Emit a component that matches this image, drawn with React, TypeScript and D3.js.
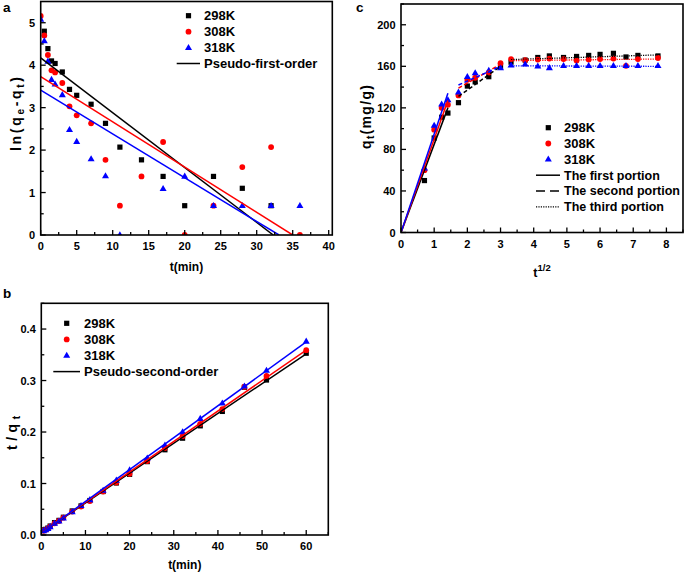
import React from 'react';
import * as d3 from 'd3';

const FONT = "'Liberation Sans', Arial, Helvetica, sans-serif";
const COLORS = ['#000000', '#ff0000', '#0000ff'];
const KINDS = ['square', 'circle', 'triangle'];
const SERIES = ['298K', '308K', '318K'];

// ---------- Panel a: pseudo-first-order ----------
const tA = [0, 0.5, 1, 1.5, 2, 3, 4, 5, 7, 9, 11, 14, 17, 20, 24, 28, 32, 36];
const a298: (number | null)[] = [null, 4.8, 4.39, 4.1, 4.04, 3.84, 3.43, 3.29, 3.08, 2.63, 2.07, 1.77, 1.38, 0.69, 1.38, 1.1, 0.69, null];
const a308: (number | null)[] = [5.16, 4.7, 4.24, 3.88, 3.83, 3.58, 3.03, 2.82, 2.63, 1.77, 0.69, 1.38, 2.19, 0, 0.69, 1.6, 2.07, 0];
const a318: (number | null)[] = [5.08, 4.57, 4.09, 3.66, 3.55, 3.3, 2.48, 2.2, 1.79, 1.39, 0, null, 1.09, 1.38, 0.69, 0.69, 0.69, 0.69];
// fitted lines: [t0, v0, t1, v1]
const aFit = [
  [0, 4.17, 32.3, 0],
  [0, 3.73, 35.0, 0],
  [0, 3.41, 33.1, 0],
];
const aXTicks = [0, 5, 10, 15, 20, 25, 30, 35, 40];
const aYTicks = [0, 1, 2, 3, 4, 5];

// ---------- Panel b: pseudo-second-order ----------
const tB = [0.5, 1, 1.5, 2, 3, 4, 5, 7, 9, 11, 14, 17, 20, 24, 28, 32, 36, 41, 46, 51, 60];
const b298 = [0.01, 0.011, 0.0135, 0.0174, 0.024, 0.0284, 0.0345, 0.0467, 0.0565, 0.067, 0.0845, 0.101, 0.1178, 0.1425, 0.1655, 0.188, 0.212, 0.24, 0.287, 0.301, 0.353];
const b308 = [0.0083, 0.0101, 0.0125, 0.0163, 0.0227, 0.0272, 0.0336, 0.0455, 0.0552, 0.0659, 0.0843, 0.102, 0.119, 0.1437, 0.169, 0.192, 0.2156, 0.2445, 0.288, 0.309, 0.359];
const b318 = [0.008, 0.0097, 0.0121, 0.0157, 0.0222, 0.0266, 0.0326, 0.0449, 0.0568, 0.0682, 0.0863, 0.106, 0.126, 0.149, 0.174, 0.2, 0.226, 0.256, 0.289, 0.3196, 0.376];
const bFit = [
  [0.3, 0.006, 60, 0.352],
  [0.3, 0.006, 60, 0.359],
  [0.3, 0.005, 60, 0.375],
];
const bXTicks = [0, 10, 20, 30, 40, 50, 60];
const bYTicks = [0, 0.1, 0.2, 0.3, 0.4];

// ---------- Panel c: intraparticle diffusion ----------
const sC = [0.707, 1, 1.225, 1.414, 1.732, 2, 2.236, 2.646, 3, 3.317, 3.742, 4.123, 4.472, 4.899, 5.292, 5.657, 6, 6.403, 6.782, 7.141, 7.746];
const c298 = [50, 91, 111, 115, 125, 141, 145, 150, 160, 164, 166, 168.5, 170, 168.5, 169.5, 170.5, 171.5, 172.5, 169, 170.5, 170];
const c308 = [60, 99, 120, 123, 132, 147, 149, 154, 163, 167, 166, 166.5, 167.5, 167, 165.5, 166.5, 167, 167.5, 160.5, 167, 168];
const c318 = [62, 103, 123.5, 127.5, 135, 150, 153.5, 156, 158.5, 161, 162, 160, 158.5, 160.5, 160.5, 160.5, 160.5, 160.5, 160.5, 160.5, 160.5];
const cFirst = [
  [0, 0, 1.414, 120],
  [0, 0, 1.414, 127],
  [0, 0, 1.414, 134],
];
const cSecond = [
  [1.732, 131, 3.0, 160],
  [1.732, 139, 3.0, 162],
  [1.732, 142, 3.0, 160],
];
const cThird = [
  [3.317, 166.5, 7.746, 171],
  [3.317, 165.5, 7.746, 167],
  [3.317, 160.5, 7.746, 160],
];
const cXTicks = [0, 1, 2, 3, 4, 5, 6, 7, 8];
const cYTicks = [0, 40, 80, 120, 160, 200];

type Sc = d3.ScaleLinear<number, number>;

function Marker({ kind, x, y, color }: { kind: string; x: number; y: number; color: string }) {
  if (kind === 'square') return <rect x={x - 2.6} y={y - 2.6} width={5.2} height={5.2} fill={color} />;
  if (kind === 'circle') return <circle cx={x} cy={y} r={2.9} fill={color} />;
  return <path d={`M${x},${y - 3.8}L${x + 3.5},${y + 2.3}L${x - 3.5},${y + 2.3}Z`} fill={color} />;
}

function minorsOf(major: number[]) {
  const out: number[] = [];
  for (let i = 0; i < major.length - 1; i++) out.push((major[i] + major[i + 1]) / 2);
  return out;
}

function Axes({ x, y, xTicks, yTicks, yFmt, xExtraMinor, yExtraMinor, xLabDy }: {
  x: Sc; y: Sc; xTicks: number[]; yTicks: number[]; yFmt: (v: number) => string;
  xExtraMinor?: number[]; yExtraMinor?: number[]; xLabDy: number;
}) {
  const [x0, x1] = x.range();
  const [yb, yt] = y.range();
  const xMin = minorsOf(xTicks).concat(xExtraMinor || []);
  const yMin = minorsOf(yTicks).concat(yExtraMinor || []);
  return (
    <g>
      {xTicks.map((v) => (
        <line key={'xM' + v} x1={x(v)} x2={x(v)} y1={yb} y2={yb - 5} stroke="#000" strokeWidth={1.3} />
      ))}
      {xMin.map((v) => (
        <line key={'xm' + v} x1={x(v)} x2={x(v)} y1={yb} y2={yb - 3} stroke="#000" strokeWidth={1.3} />
      ))}
      {yTicks.map((v) => (
        <line key={'yM' + v} x1={x0} x2={x0 + 5} y1={y(v)} y2={y(v)} stroke="#000" strokeWidth={1.3} />
      ))}
      {yMin.map((v) => (
        <line key={'ym' + v} x1={x0} x2={x0 + 3} y1={y(v)} y2={y(v)} stroke="#000" strokeWidth={1.3} />
      ))}
      <rect x={x0} y={yt} width={x1 - x0} height={yb - yt} fill="none" stroke="#000" strokeWidth={1.6} />
      {xTicks.map((v) => (
        <text key={'xl' + v} x={x(v)} y={yb + xLabDy} textAnchor="middle" fontSize={11} fontWeight="bold">
          {String(v)}
        </text>
      ))}
      {yTicks.map((v) => (
        <text key={'yl' + v} x={x0 - 5.5} y={y(v) + 4} textAnchor="end" fontSize={11} fontWeight="bold">
          {yFmt(v)}
        </text>
      ))}
    </g>
  );
}

function Scatter({ xs, ys, x, y, kind, color, clip }: {
  xs: number[]; ys: (number | null)[]; x: Sc; y: Sc; kind: string; color: string; clip: string;
}) {
  return (
    <g clipPath={`url(#${clip})`}>
      {xs.map((xv, i) => {
        const yv = ys[i];
        if (yv === null || yv === undefined) return null;
        return <Marker key={i} kind={kind} x={x(xv)} y={y(yv)} color={color} />;
      })}
    </g>
  );
}

function Seg({ s, x, y, color, dash, width, clip }: {
  s: number[]; x: Sc; y: Sc; color: string; dash?: string; width?: number; clip: string;
}) {
  return (
    <line clipPath={`url(#${clip})`} x1={x(s[0])} y1={y(s[1])} x2={x(s[2])} y2={y(s[3])}
      stroke={color} strokeWidth={width || 1.5} strokeDasharray={dash} />
  );
}

function LegendRow({ x, y, kind, color, label, tx }: { x: number; y: number; kind: string; color: string; label: string; tx: number }) {
  return (
    <g>
      <Marker kind={kind} x={x} y={y} color={color} />
      <text x={tx} y={y + 4.6} fontSize={13} fontWeight="bold">{label}</text>
    </g>
  );
}

export default function App() {
  // scales
  const axA = d3.scaleLinear().domain([0, 40.5]).range([40.7, 332.3]);
  const ayA = d3.scaleLinear().domain([0, 5.5]).range([235, 1.5]);
  const axB = d3.scaleLinear().domain([0, 65]).range([41.3, 328.3]);
  const ayB = d3.scaleLinear().domain([0, 0.45]).range([535, 303.3]);
  const axC = d3.scaleLinear().domain([0, 8.5]).range([401, 683]);
  const ayC = d3.scaleLinear().domain([0, 220]).range([232.5, 4]);

  const aData = [a298, a308, a318];
  const bData = [b298, b308, b318];
  const cData = [c298, c308, c318];

  const clipRect = (id: string, x: Sc, y: Sc) => {
    const [x0, x1] = x.range();
    const [yb, yt] = y.range();
    return (
      <clipPath id={id}>
        <rect x={x0} y={yt} width={x1 - x0} height={yb - yt} />
      </clipPath>
    );
  };

  return (
    <svg width={685} height={575} viewBox="0 0 685 575"
      style={{ position: 'absolute', left: 0, top: 0, background: '#fff' }}
      fontFamily={FONT}>
      <defs>
        {clipRect('clipA', axA, ayA)}
        {clipRect('clipB', axB, ayB)}
        {clipRect('clipC', axC, ayC)}
      </defs>
      <rect x={0} y={0} width={685} height={575} fill="#fff" />

      {/* ---------------- Panel a ---------------- */}
      <text x={3} y={12} fontSize={13.5} fontWeight="bold">a</text>
      {aData.map((d, i) => (
        <Scatter key={'as' + i} xs={tA} ys={d} x={axA} y={ayA} kind={KINDS[i]} color={COLORS[i]} clip="clipA" />
      ))}
      {aFit.map((s, i) => (
        <Seg key={'af' + i} s={s} x={axA} y={ayA} color={COLORS[i]} clip="clipA" />
      ))}
      <Axes x={axA} y={ayA} xTicks={aXTicks} yTicks={aYTicks} yFmt={(v) => String(v)} xLabDy={15} />
      <text x={186.5} y={271} textAnchor="middle" fontSize={12} fontWeight="bold">t(min)</text>
      <text transform="translate(20.5,114) rotate(-90)" textAnchor="middle" fontSize={14} fontWeight="bold"
        textLength={74} lengthAdjust="spacing">
        ln(q<tspan fontSize={10} dy={3}>e</tspan><tspan dy={-3}>-q</tspan><tspan fontSize={10} dy={3}>t</tspan><tspan dy={-3}>)</tspan>
      </text>
      {SERIES.map((s, i) => (
        <LegendRow key={'al' + i} x={188.5} y={15.7 + i * 16} kind={KINDS[i]} color={COLORS[i]} label={s} tx={204} />
      ))}
      <line x1={176.7} x2={200} y1={63.5} y2={63.5} stroke="#000" strokeWidth={1.5} />
      <text x={204} y={68} fontSize={13} fontWeight="bold">Pseudo-first-order</text>

      {/* ---------------- Panel b ---------------- */}
      <text x={3} y={298} fontSize={13.5} fontWeight="bold">b</text>
      {bData.map((d, i) => (
        <Scatter key={'bs' + i} xs={tB} ys={d} x={axB} y={ayB} kind={KINDS[i]} color={COLORS[i]} clip="clipB" />
      ))}
      {bFit.map((s, i) => (
        <Seg key={'bf' + i} s={s} x={axB} y={ayB} color={COLORS[i]} clip="clipB" />
      ))}
      <Axes x={axB} y={ayB} xTicks={bXTicks} yTicks={bYTicks} yFmt={(v) => d3.format('.1f')(v)}
        yExtraMinor={[0.45]} xExtraMinor={[65]} xLabDy={14.5} />
      <text x={184.8} y={569} textAnchor="middle" fontSize={12} fontWeight="bold">t(min)</text>
      <text transform="translate(16.5,433) rotate(-90)" textAnchor="middle" fontSize={14} fontWeight="bold"
        textLength={34} lengthAdjust="spacing">
        t/q<tspan fontSize={10} dy={3}>t</tspan>
      </text>
      {SERIES.map((s, i) => (
        <LegendRow key={'bl' + i} x={66.7} y={323.3 + i * 16.1} kind={KINDS[i]} color={COLORS[i]} label={s} tx={84} />
      ))}
      <line x1={53.3} x2={80} y1={371.6} y2={371.6} stroke="#000" strokeWidth={1.5} />
      <text x={84} y={376.2} fontSize={13} fontWeight="bold">Pseudo-second-order</text>

      {/* ---------------- Panel c ---------------- */}
      <text x={356} y={12} fontSize={13.5} fontWeight="bold">c</text>
      {cData.map((d, i) => (
        <Scatter key={'cs' + i} xs={sC} ys={d} x={axC} y={ayC} kind={KINDS[i]} color={COLORS[i]} clip="clipC" />
      ))}
      {cFirst.map((s, i) => (
        <Seg key={'c1' + i} s={s} x={axC} y={ayC} color={COLORS[i]} clip="clipC" />
      ))}
      {cSecond.map((s, i) => (
        <Seg key={'c2' + i} s={s} x={axC} y={ayC} color={COLORS[i]} dash="4,2.5" clip="clipC" />
      ))}
      {cThird.map((s, i) => (
        <Seg key={'c3' + i} s={s} x={axC} y={ayC} color={COLORS[i]} dash="1.2,1.2" width={1.3} clip="clipC" />
      ))}
      <Axes x={axC} y={ayC} xTicks={cXTicks} yTicks={cYTicks} yFmt={(v) => String(v)}
        xExtraMinor={[8.5]} yExtraMinor={[220]} xLabDy={15.5} />
      <text x={542} y={277} textAnchor="middle" fontSize={12.5} fontWeight="bold">
        t<tspan fontSize={9.5} dy={-6}>1/2</tspan>
      </text>
      <text transform="translate(370.5,117) rotate(-90)" textAnchor="middle" fontSize={14} fontWeight="bold"
        textLength={64} lengthAdjust="spacing">
        q<tspan fontSize={10} dy={3}>t</tspan><tspan dy={-3}>(mg/g)</tspan>
      </text>
      {SERIES.map((s, i) => (
        <LegendRow key={'cl' + i} x={548.3} y={127.7 + i * 15.8} kind={KINDS[i]} color={COLORS[i]} label={s} tx={564} />
      ))}
      <line x1={536} x2={560} y1={175.2} y2={175.2} stroke="#000" strokeWidth={1.5} />
      <text x={564} y={179.6} fontSize={12.5} fontWeight="bold">The first portion</text>
      <line x1={536} x2={560} y1={191} y2={191} stroke="#000" strokeWidth={1.5} strokeDasharray="9,5" />
      <text x={564} y={195.4} fontSize={12.5} fontWeight="bold">The second portion</text>
      <line x1={536} x2={560} y1={206.8} y2={206.8} stroke="#000" strokeWidth={1.2} strokeDasharray="1.2,1.2" />
      <text x={564} y={211.2} fontSize={12.5} fontWeight="bold">The third portion</text>
    </svg>
  );
}
